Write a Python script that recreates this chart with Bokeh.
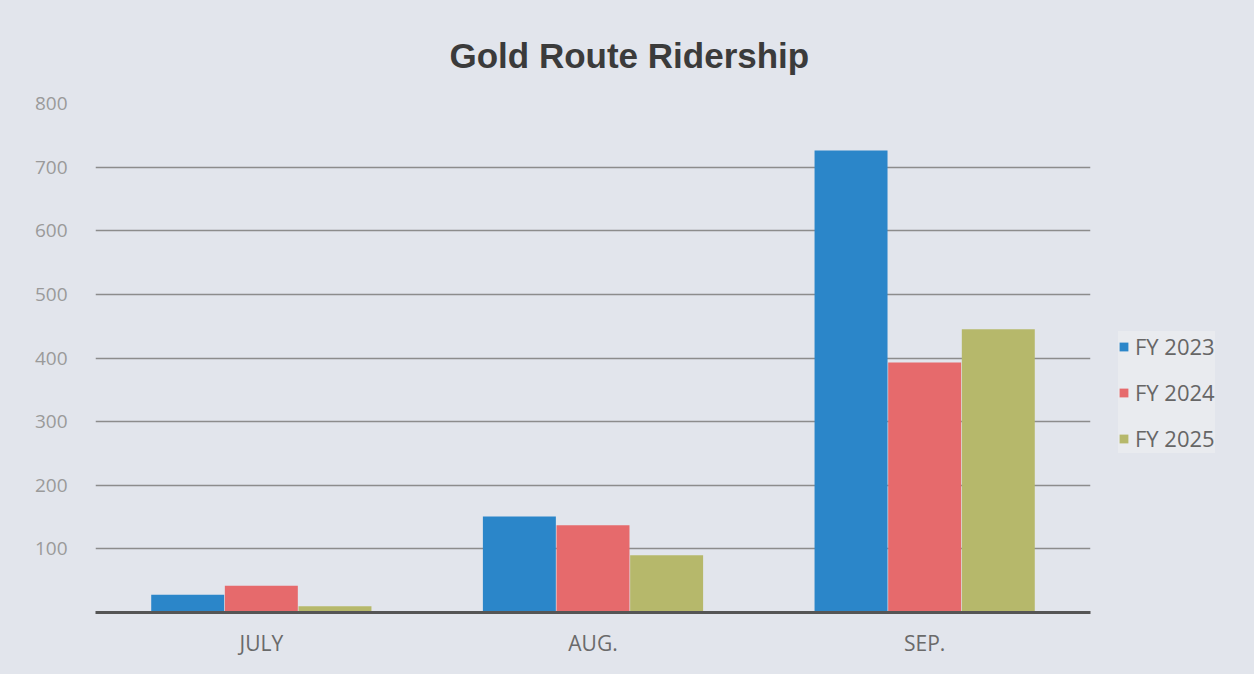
from bokeh.plotting import figure
from bokeh.layouts import row
from bokeh.models import ColumnDataSource, Legend, LegendItem, FactorRange, Range1d
from bokeh.transform import dodge
from bokeh.embed import file_html
from bokeh.resources import INLINE

months = ["JULY", "AUG.", "SEP."]
series_names = ["FY 2023", "FY 2024", "FY 2025"]
fy2023 = [28, 151, 726]
fy2024 = [42, 137, 393]
fy2025 = [10, 90, 445]
colors = ["#2b86c9", "#e66a6c", "#b6b86b"]
y_ticks = [0, 100, 200, 300, 400, 500, 600, 700, 800]

src = ColumnDataSource(dict(month=months, a=fy2023, b=fy2024, c=fy2025))

BG = "#e2e5ec"
p = figure(width=1105, height=674, x_range=FactorRange(*months), y_range=Range1d(0, 800),
           output_backend="svg", toolbar_location=None,
           min_border_left=95, min_border_right=15, min_border_top=103, min_border_bottom=62,
           background_fill_color=BG, border_fill_color=BG, outline_line_color=None,
           styles={"background-color": BG})

p.title.text = "Gold Route Ridership"
p.title.align = "left"
p.title.offset = 354
p.title.text_font = "Liberation Sans"
p.title.text_font_size = "35px"
p.title.text_font_style = "bold"
p.title.text_color = "#3b3b3b"
p.title.standoff = 57

for col, off, color in zip(["a", "b", "c"], [-0.222, 0.0, 0.222], colors):
    p.vbar(x=dodge("month", off, range=p.x_range), top=col, width=0.22, source=src,
           fill_color=color, line_color=None)

p.yaxis.ticker = y_ticks
p.yaxis.major_label_overrides = {0: ""}
p.yaxis.axis_line_color = None
p.yaxis.major_tick_line_color = None
p.yaxis.minor_tick_line_color = None
p.yaxis.major_label_standoff = 22
p.yaxis.major_label_text_font = "Open Sans"
p.yaxis.major_label_text_font_size = "19px"
p.yaxis.major_label_text_color = "#9a9a9a"

p.xaxis.axis_line_color = "#555555"
p.xaxis.axis_line_width = 3
p.xaxis.major_tick_line_color = None
p.xaxis.minor_tick_line_color = None
p.xaxis.major_label_standoff = 10
p.xaxis.major_label_text_font = "Open Sans"
p.xaxis.major_label_text_font_size = "21px"
p.xaxis.major_label_text_color = "#6a6a6a"

p.xgrid.grid_line_color = None
p.ygrid.grid_line_color = "#8c8c8c"
p.ygrid.grid_line_width = 1.5

# legend panel
lf = figure(width=149, height=674, output_backend="svg", toolbar_location=None,
            x_axis_location=None, y_axis_location=None,
            x_range=Range1d(0, 1), y_range=Range1d(0, 1),
            min_border_left=0, min_border_right=0, min_border_top=0, min_border_bottom=0,
            background_fill_color=BG, border_fill_color=BG, outline_line_color=None,
            styles={"background-color": BG})
lf.grid.visible = False
swatch_src = ColumnDataSource(dict(x=[-5.0], top=[0.0]))
swatches = []
for color in colors:
    swatches.append(lf.vbar(x="x", top="top", width=0.0, source=swatch_src,
                            fill_color=color, line_color=None))

legend = Legend(items=[LegendItem(label=n, renderers=[r]) for n, r in zip(series_names, swatches)],
                location=(13, 159), orientation="vertical",
                glyph_width=11, glyph_height=11, label_height=20, spacing=16,
                label_text_font="Open Sans", label_text_font_size="22px", label_text_color="#666666",
                background_fill_color="#e9ebef", background_fill_alpha=1.0,
                border_line_color=None, padding=14, margin=0, label_standoff=6)
lf.add_layout(legend, "center")

layout = row(p, lf, spacing=0, styles={"background-color": BG})
open("out.html", "w").write(file_html(layout, INLINE))
